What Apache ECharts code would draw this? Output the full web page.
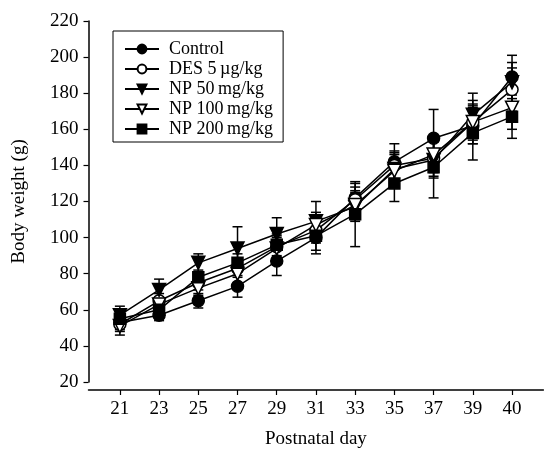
<!DOCTYPE html>
<html>
<head>
<meta charset="utf-8">
<script src="https://cdn.jsdelivr.net/npm/echarts@6/dist/echarts.min.js"></script>
<style>
html,body{margin:0;padding:0;background:#fff;}
#chart{width:545px;height:454px;}
</style>
</head>
<body>
<div id="chart"></div>
<script>
var days = ['21','23','25','27','29','31','33','35','37','39','40'];
var yTicks = [20,40,60,80,100,120,140,160,180,200,220];

var controlMean = [53, 57, 65, 73, 87, 100, 122, 142, 155, 162, 189];
var controlErr  = [4, 3, 4, 6, 8, 9, 8, 10, 16, 10, 12];
var desMean     = [52, 65, 75, 83, 95, 104, 121, 140, 144, 164, 182];
var desErr      = [4, 4, 4, 5, 6, 7, 7, 8, 10, 10, 12];
var np50Mean    = [57, 71, 86, 94, 102, 109, 117, 138, 143, 168, 186];
var np50Err     = [5, 6, 5, 12, 9, 11, 8, 9, 10, 12, 11];
var np100Mean   = [51, 63, 72, 80, 94, 107, 118, 137, 146, 164, 172];
var np100Err    = [5, 4, 4, 5, 6, 7, 8, 9, 10, 12, 12];
var np200Mean   = [55, 60, 78, 86, 96, 101, 113, 130, 139, 158, 167];
var np200Err    = [4, 3, 4, 5, 6, 8, 18, 10, 17, 15, 12];

var groups = [
  {name: 'Control', mean: controlMean, err: controlErr, symbol: 'circle', size: 12, fill: '#000'},
  {name: 'DES 5\u2009\u00b5g/kg', mean: desMean, err: desErr, symbol: 'circle', size: 12, fill: '#fff'},
  {name: 'NP 50\u2009mg/kg', mean: np50Mean, err: np50Err, symbol: 'path://M0,0 L10,0 L5,9 Z', size: 13, fill: '#000'},
  {name: 'NP 100\u2009mg/kg', mean: np100Mean, err: np100Err, symbol: 'path://M0,0 L10,0 L5,9 Z', size: 13, fill: '#fff'},
  {name: 'NP 200\u2009mg/kg', mean: np200Mean, err: np200Err, symbol: 'rect', size: 11, fill: '#000'}
];

var FONT = '"Liberation Serif", "Times New Roman", serif';
var series = [];
groups.forEach(function (g) {
  series.push({
    type: 'custom',
    silent: true,
    z: 1,
    renderItem: function (params, api) {
      var x = api.value(0);
      var lo = api.coord([x, api.value(1)]);
      var hi = api.coord([x, api.value(2)]);
      var w = 5;
      return {
        type: 'group',
        children: [
          {type: 'line', shape: {x1: lo[0], y1: lo[1], x2: hi[0], y2: hi[1]}, style: {stroke: '#000', lineWidth: 1.5}},
          {type: 'line', shape: {x1: lo[0] - w, y1: lo[1], x2: lo[0] + w, y2: lo[1]}, style: {stroke: '#000', lineWidth: 1.5}},
          {type: 'line', shape: {x1: hi[0] - w, y1: hi[1], x2: hi[0] + w, y2: hi[1]}, style: {stroke: '#000', lineWidth: 1.5}}
        ]
      };
    },
    data: g.mean.map(function (m, i) { return [i, m - g.err[i], m + g.err[i]]; })
  });
  series.push({
    name: g.name,
    type: 'line',
    z: 3,
    symbol: g.symbol,
    symbolSize: g.size,
    showSymbol: true,
    animation: false,
    lineStyle: {color: '#000', width: 1.5},
    itemStyle: {color: g.fill, borderColor: '#000', borderWidth: 1.5},
    data: g.mean.map(function (m, i) { return [i, m]; })
  });
});

var chart = echarts.init(document.getElementById('chart'));
chart.setOption({
  animation: false,
  backgroundColor: '#fff',
  grid: {left: 88.5, right: 1.6, top: 21, bottom: 58},
  legend: {
    orient: 'vertical',
    left: 113,
    top: 31,
    borderColor: '#000',
    borderWidth: 1,
    padding: [9, 10, 4, 11],
    itemWidth: 34,
    itemHeight: 11,
    itemGap: 2,
    textStyle: {fontFamily: FONT, fontSize: 18, color: '#000', lineHeight: 18, padding: [0, 0, 0, 5]},
    data: groups.map(function (g) { return g.name; })
  },
  xAxis: {
    type: 'value',
    min: -0.8,
    max: 10.8,
    offset: 8,
    name: 'Postnatal day',
    nameLocation: 'middle',
    nameGap: 40,
    nameTextStyle: {fontFamily: FONT, fontSize: 19, color: '#000'},
    axisLine: {onZero: false, lineStyle: {color: '#000', width: 1.5}},
    axisTick: {customValues: days.map(function (d, i) { return i; }), length: 5, lineStyle: {color: '#000', width: 1.2}},
    axisLabel: {
      customValues: days.map(function (d, i) { return i; }),
      formatter: function (v) { return days[Math.round(v)]; },
      fontFamily: FONT, fontSize: 19, color: '#000', margin: 10
    },
    splitLine: {show: false}
  },
  yAxis: {
    type: 'value',
    min: yTicks[0],
    max: yTicks[yTicks.length - 1],
    interval: 20,
    name: 'Body weight (g)',
    nameLocation: 'middle',
    nameGap: 60,
    nameTextStyle: {fontFamily: FONT, fontSize: 19, color: '#000'},
    axisLine: {show: true, onZero: false, lineStyle: {color: '#000', width: 1.5}},
    axisTick: {show: true, length: 5, lineStyle: {color: '#000', width: 1.2}},
    axisLabel: {fontFamily: FONT, fontSize: 19, color: '#000', margin: 10},
    splitLine: {show: false}
  },
  series: series
});
</script>
</body>
</html>
